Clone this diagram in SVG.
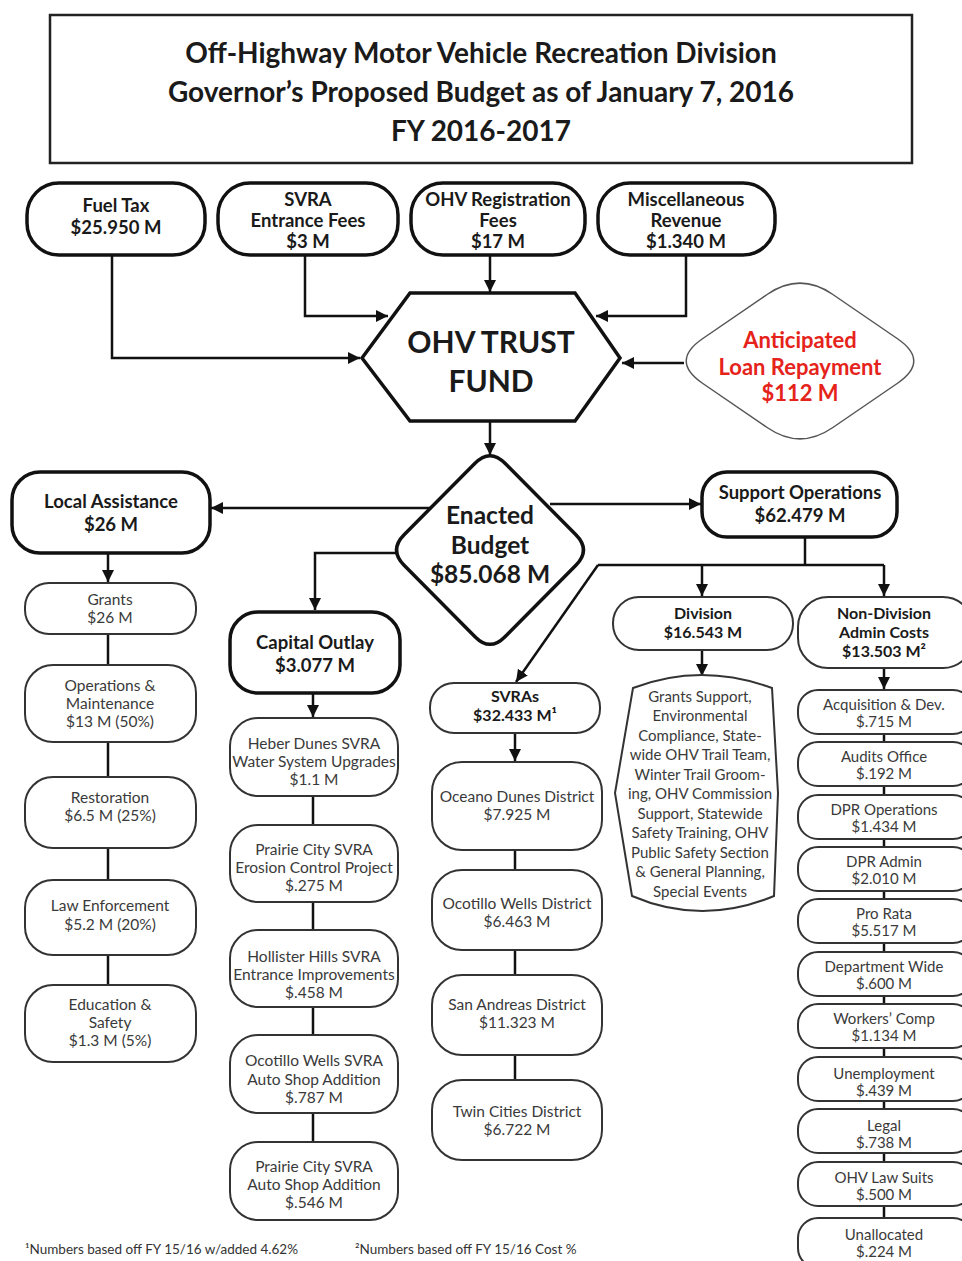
<svg xmlns="http://www.w3.org/2000/svg" width="962" height="1261" viewBox="0 0 962 1261">
<defs>
<marker id="ah" markerUnits="userSpaceOnUse" markerWidth="12" markerHeight="12" viewBox="0 0 10 10" refX="10" refY="5" orient="auto">
<path d="M0,0 L10,5 L0,10 Z" fill="#111"/>
</marker>
<style>
text{font-family:Lato,"Open Sans","Liberation Sans",sans-serif;text-anchor:middle;fill:#2a2a2a}
.t{font-weight:bold;font-size:28px;fill:#1a1a1a}
.rb{font-weight:bold;font-size:18.5px;fill:#1a1a1a}
.sb{font-weight:bold;font-size:16px;fill:#1a1a1a}
.n{font-size:15.5px;fill:#3a3a3a}
.m{font-size:15px;fill:#3a3a3a}
.fn{font-size:13.5px;text-anchor:start;fill:#333}
.big{font-weight:bold;font-size:30px;fill:#1a1a1a}
.eb{font-weight:bold;font-size:24.5px;fill:#1a1a1a}
.red{font-weight:bold;font-size:22px;fill:#e5231b}
.thick{fill:#fff;stroke:#111;stroke-width:3.5}
.thin{fill:#fff;stroke:#333;stroke-width:2}
.c{fill:none;stroke:#111;stroke-width:2.5}
.ca{fill:none;stroke:#111;stroke-width:2.5;marker-end:url(#ah)}
</style>
</defs>
<rect width="962" height="1261" fill="#fff"/>

<g id="title">
<rect x="50" y="15" width="862" height="148" fill="#fff" stroke="#222" stroke-width="2.5"/>
<text class="t" x="481" y="63">Off-Highway Motor Vehicle Recreation Division</text>
<text class="t" x="481" y="102">Governor’s Proposed Budget as of January 7, 2016</text>
<text class="t" x="481" y="141">FY 2016-2017</text>
</g>

<g id="connectors">
<path class="ca" d="M112,255 V358 H360"/>
<path class="ca" d="M305,255 V316 H388"/>
<path class="ca" d="M490,255 V292"/>
<path class="ca" d="M686,255 V316 H596"/>
<path class="ca" d="M684,363 H622"/>
<path class="ca" d="M490,421 V455"/>
<path class="ca" d="M430,508 H211"/>
<path class="ca" d="M550,504 H701"/>
<path class="ca" d="M396,553 H315 V610"/>
<path class="ca" d="M108,553 V582"/>
<path class="c" d="M805,537 V565"/>
<path class="c" d="M598,565 H884"/>
<path class="ca" d="M884,565 V596"/>
<path class="ca" d="M702,565 V596"/>
<path class="ca" d="M598,565 L516,682"/>
<path class="ca" d="M702,650 V676"/>
<path class="ca" d="M884,668 V689"/>
<path class="ca" d="M313,693 V717"/>
<path class="ca" d="M515,733 V761"/>
<path class="c" d="M108,634 V665 M108,742 V777 M108,848 V880 M108,955 V985"/>
<path class="c" d="M313,796 V825 M313,902 V930 M313,1007 V1035 M313,1113 V1142"/>
<path class="c" d="M515,850 V870 M515,950 V975 M515,1055 V1080"/>
<path class="c" d="M884,733 V743 M884,785 V796 M884,838 V848 M884,890 V900 M884,942 V953 M884,995 V1005 M884,1047 V1058 M884,1100 V1110 M884,1152 V1163 M884,1205 V1218"/>
</g>

<g id="fuel-tax">
<rect class="thick" x="27" y="183" width="178" height="72" rx="32"/>
<text class="rb" x="116" y="212">Fuel Tax</text>
<text class="rb" x="116" y="234">$25.950 M</text>
</g>
<g id="svra-fees">
<rect class="thick" x="218" y="183" width="180" height="72" rx="32"/>
<text class="rb" x="308" y="206">SVRA</text>
<text class="rb" x="308" y="227">Entrance Fees</text>
<text class="rb" x="308" y="248">$3 M</text>
</g>
<g id="ohv-reg">
<rect class="thick" x="411" y="183" width="174" height="72" rx="32"/>
<text class="rb" x="498" y="206">OHV Registration</text>
<text class="rb" x="498" y="227">Fees</text>
<text class="rb" x="498" y="248">$17 M</text>
</g>
<g id="misc-rev">
<rect class="thick" x="598" y="183" width="177" height="72" rx="32"/>
<text class="rb" x="686" y="206">Miscellaneous</text>
<text class="rb" x="686" y="227">Revenue</text>
<text class="rb" x="686" y="248">$1.340 M</text>
</g>

<g id="trust-fund">
<path class="thick" d="M362,358 L410,293 L575,293 L620,358 L575,421 L410,421 Z"/>
<text class="big" x="491" y="353">OHV TRUST</text>
<text class="big" x="491" y="392">FUND</text>
</g>

<g id="loan">
<path d="M832.5,294.25 L897.5,338.75 Q930,361 897.5,383.25 L832.5,427.75 Q800,450 767.5,427.75 L702.5,383.25 Q670,361 702.5,338.75 L767.5,294.25 Q800,272 832.5,294.25 Z" fill="#fff" stroke="#555" stroke-width="1.5"/>
<text class="red" x="800" y="348">Anticipated</text>
<text class="red" x="800" y="375">Loan Repayment</text>
<text class="red" x="800" y="401">$112 M</text>
</g>

<g id="enacted">
<path class="thick" d="M505,463.3 L575.9,534.7 Q591,550 575.9,565.3 L505,636.7 Q490,652 475,636.7 L404.1,565.3 Q389,550 404.1,534.7 L475,463.3 Q490,448 505,463.3 Z"/>
<text class="eb" x="490" y="524">Enacted</text>
<text class="eb" x="490" y="554">Budget</text>
<text class="eb" x="490" y="583">$85.068 M</text>
</g>

<g id="local-assistance">
<rect class="thick" x="12" y="472" width="198" height="81" rx="28"/>
<text class="rb" x="111" y="508">Local Assistance</text>
<text class="rb" x="111" y="531">$26 M</text>
</g>
<g id="support-ops">
<rect class="thick" x="702" y="472" width="195" height="65" rx="25"/>
<text class="rb" x="800" y="499">Support Operations</text>
<text class="rb" x="800" y="522">$62.479 M</text>
</g>
<g id="capital-outlay">
<rect class="thick" x="230" y="612" width="170" height="81" rx="28"/>
<text class="rb" x="315" y="649">Capital Outlay</text>
<text class="rb" x="315" y="672">$3.077 M</text>
</g>

<g id="grants">
<rect class="thin" x="25" y="583" width="171" height="51" rx="24"/>
<text class="n" x="110" y="605">Grants</text>
<text class="n" x="110" y="623">$26 M</text>
</g>
<g id="ops-maint">
<rect class="thin" x="25" y="665" width="171" height="77" rx="28"/>
<text class="n" x="110" y="691">Operations &amp;</text>
<text class="n" x="110" y="709">Maintenance</text>
<text class="n" x="110" y="727">$13 M (50%)</text>
</g>
<g id="restoration">
<rect class="thin" x="25" y="777" width="171" height="71" rx="28"/>
<text class="n" x="110" y="803">Restoration</text>
<text class="n" x="110" y="821">$6.5 M (25%)</text>
</g>
<g id="law-enforcement">
<rect class="thin" x="25" y="880" width="171" height="75" rx="28"/>
<text class="n" x="110" y="911">Law Enforcement</text>
<text class="n" x="110" y="930">$5.2 M (20%)</text>
</g>
<g id="education-safety">
<rect class="thin" x="25" y="985" width="171" height="77" rx="28"/>
<text class="n" x="110" y="1010">Education &amp;</text>
<text class="n" x="110" y="1028">Safety</text>
<text class="n" x="110" y="1046">$1.3 M (5%)</text>
</g>

<g id="heber">
<rect class="thin" x="230" y="718" width="168" height="78" rx="28"/>
<text class="n" x="314" y="749">Heber Dunes SVRA</text>
<text class="n" x="314" y="767">Water System Upgrades</text>
<text class="n" x="314" y="785">$1.1 M</text>
</g>
<g id="prairie-erosion">
<rect class="thin" x="230" y="825" width="168" height="77" rx="28"/>
<text class="n" x="314" y="855">Prairie City SVRA</text>
<text class="n" x="314" y="873">Erosion Control Project</text>
<text class="n" x="314" y="891">$.275 M</text>
</g>
<g id="hollister">
<rect class="thin" x="230" y="930" width="168" height="77" rx="28"/>
<text class="n" x="314" y="962">Hollister Hills SVRA</text>
<text class="n" x="314" y="980">Entrance Improvements</text>
<text class="n" x="314" y="998">$.458 M</text>
</g>
<g id="ocotillo-auto">
<rect class="thin" x="230" y="1035" width="168" height="78" rx="28"/>
<text class="n" x="314" y="1066">Ocotillo Wells SVRA</text>
<text class="n" x="314" y="1085">Auto Shop Addition</text>
<text class="n" x="314" y="1103">$.787 M</text>
</g>
<g id="prairie-auto">
<rect class="thin" x="230" y="1142" width="168" height="78" rx="28"/>
<text class="n" x="314" y="1172">Prairie City SVRA</text>
<text class="n" x="314" y="1190">Auto Shop Addition</text>
<text class="n" x="314" y="1208">$.546 M</text>
</g>

<g id="svras">
<rect class="thin" x="430" y="683" width="170" height="50" rx="24"/>
<text class="sb" x="515" y="702">SVRAs</text>
<text class="sb" x="515" y="721">$32.433 M¹</text>
</g>
<g id="oceano">
<rect class="thin" x="432" y="762" width="170" height="88" rx="30"/>
<text class="n" x="517" y="802">Oceano Dunes District</text>
<text class="n" x="517" y="820">$7.925 M</text>
</g>
<g id="ocotillo-district">
<rect class="thin" x="432" y="870" width="170" height="80" rx="30"/>
<text class="n" x="517" y="909">Ocotillo Wells District</text>
<text class="n" x="517" y="927">$6.463 M</text>
</g>
<g id="san-andreas">
<rect class="thin" x="432" y="975" width="170" height="80" rx="30"/>
<text class="n" x="517" y="1010">San Andreas District</text>
<text class="n" x="517" y="1028">$11.323 M</text>
</g>
<g id="twin-cities">
<rect class="thin" x="432" y="1080" width="170" height="80" rx="30"/>
<text class="n" x="517" y="1117">Twin Cities District</text>
<text class="n" x="517" y="1135">$6.722 M</text>
</g>

<g id="division">
<rect class="thin" x="613" y="597" width="180" height="53" rx="26"/>
<text class="sb" x="703" y="619">Division</text>
<text class="sb" x="703" y="638">$16.543 M</text>
</g>
<g id="division-detail">
<path class="thin" d="M633,688 Q701,662 772,688 L778,793 L774,896 Q702,926 632,896 L615,793 Z"/>
<text class="m" x="700" y="702">Grants Support,</text>
<text class="m" x="700" y="721">Environmental</text>
<text class="m" x="700" y="741">Compliance, State-</text>
<text class="m" x="700" y="760">wide OHV Trail Team,</text>
<text class="m" x="700" y="780">Winter Trail Groom-</text>
<text class="m" x="700" y="799">ing, OHV Commission</text>
<text class="m" x="700" y="819">Support, Statewide</text>
<text class="m" x="700" y="838">Safety Training, OHV</text>
<text class="m" x="700" y="858">Public Safety Section</text>
<text class="m" x="700" y="877">&amp; General Planning,</text>
<text class="m" x="700" y="897">Special Events</text>
</g>

<g id="non-division">
<rect class="thin" x="798" y="597" width="175" height="71" rx="30"/>
<text class="sb" x="884" y="619">Non-Division</text>
<text class="sb" x="884" y="638">Admin Costs</text>
<text class="sb" x="884" y="657">$13.503 M²</text>
</g>
<g id="acquisition">
<rect class="thin" x="798" y="690" width="175" height="44" rx="20"/>
<text class="m" x="884" y="710">Acquisition &amp; Dev.</text>
<text class="m" x="884" y="727">$.715 M</text>
</g>
<g id="audits">
<rect class="thin" x="798" y="742" width="175" height="44" rx="20"/>
<text class="m" x="884" y="762">Audits Office</text>
<text class="m" x="884" y="779">$.192 M</text>
</g>
<g id="dpr-ops">
<rect class="thin" x="798" y="795" width="175" height="44" rx="20"/>
<text class="m" x="884" y="815">DPR Operations</text>
<text class="m" x="884" y="832">$1.434 M</text>
</g>
<g id="dpr-admin">
<rect class="thin" x="798" y="847" width="175" height="44" rx="20"/>
<text class="m" x="884" y="867">DPR Admin</text>
<text class="m" x="884" y="884">$2.010 M</text>
</g>
<g id="pro-rata">
<rect class="thin" x="798" y="899" width="175" height="44" rx="20"/>
<text class="m" x="884" y="919">Pro Rata</text>
<text class="m" x="884" y="936">$5.517 M</text>
</g>
<g id="dept-wide">
<rect class="thin" x="798" y="952" width="175" height="44" rx="20"/>
<text class="m" x="884" y="972">Department Wide</text>
<text class="m" x="884" y="989">$.600 M</text>
</g>
<g id="workers-comp">
<rect class="thin" x="798" y="1004" width="175" height="44" rx="20"/>
<text class="m" x="884" y="1024">Workers’ Comp</text>
<text class="m" x="884" y="1041">$1.134 M</text>
</g>
<g id="unemployment">
<rect class="thin" x="798" y="1057" width="175" height="44" rx="20"/>
<text class="m" x="884" y="1079">Unemployment</text>
<text class="m" x="884" y="1096">$.439 M</text>
</g>
<g id="legal">
<rect class="thin" x="798" y="1109" width="175" height="44" rx="20"/>
<text class="m" x="884" y="1131">Legal</text>
<text class="m" x="884" y="1148">$.738 M</text>
</g>
<g id="law-suits">
<rect class="thin" x="798" y="1162" width="175" height="44" rx="20"/>
<text class="m" x="884" y="1183">OHV Law Suits</text>
<text class="m" x="884" y="1200">$.500 M</text>
</g>
<g id="unallocated">
<rect class="thin" x="798" y="1218" width="175" height="50" rx="20"/>
<text class="m" x="884" y="1240">Unallocated</text>
<text class="m" x="884" y="1257">$.224 M</text>
</g>

<g id="footnotes">
<text class="fn" x="25" y="1254">¹Numbers based off FY 15/16 w/added 4.62%</text>
<text class="fn" x="355" y="1254">²Numbers based off FY 15/16 Cost %</text>
</g>
</svg>
